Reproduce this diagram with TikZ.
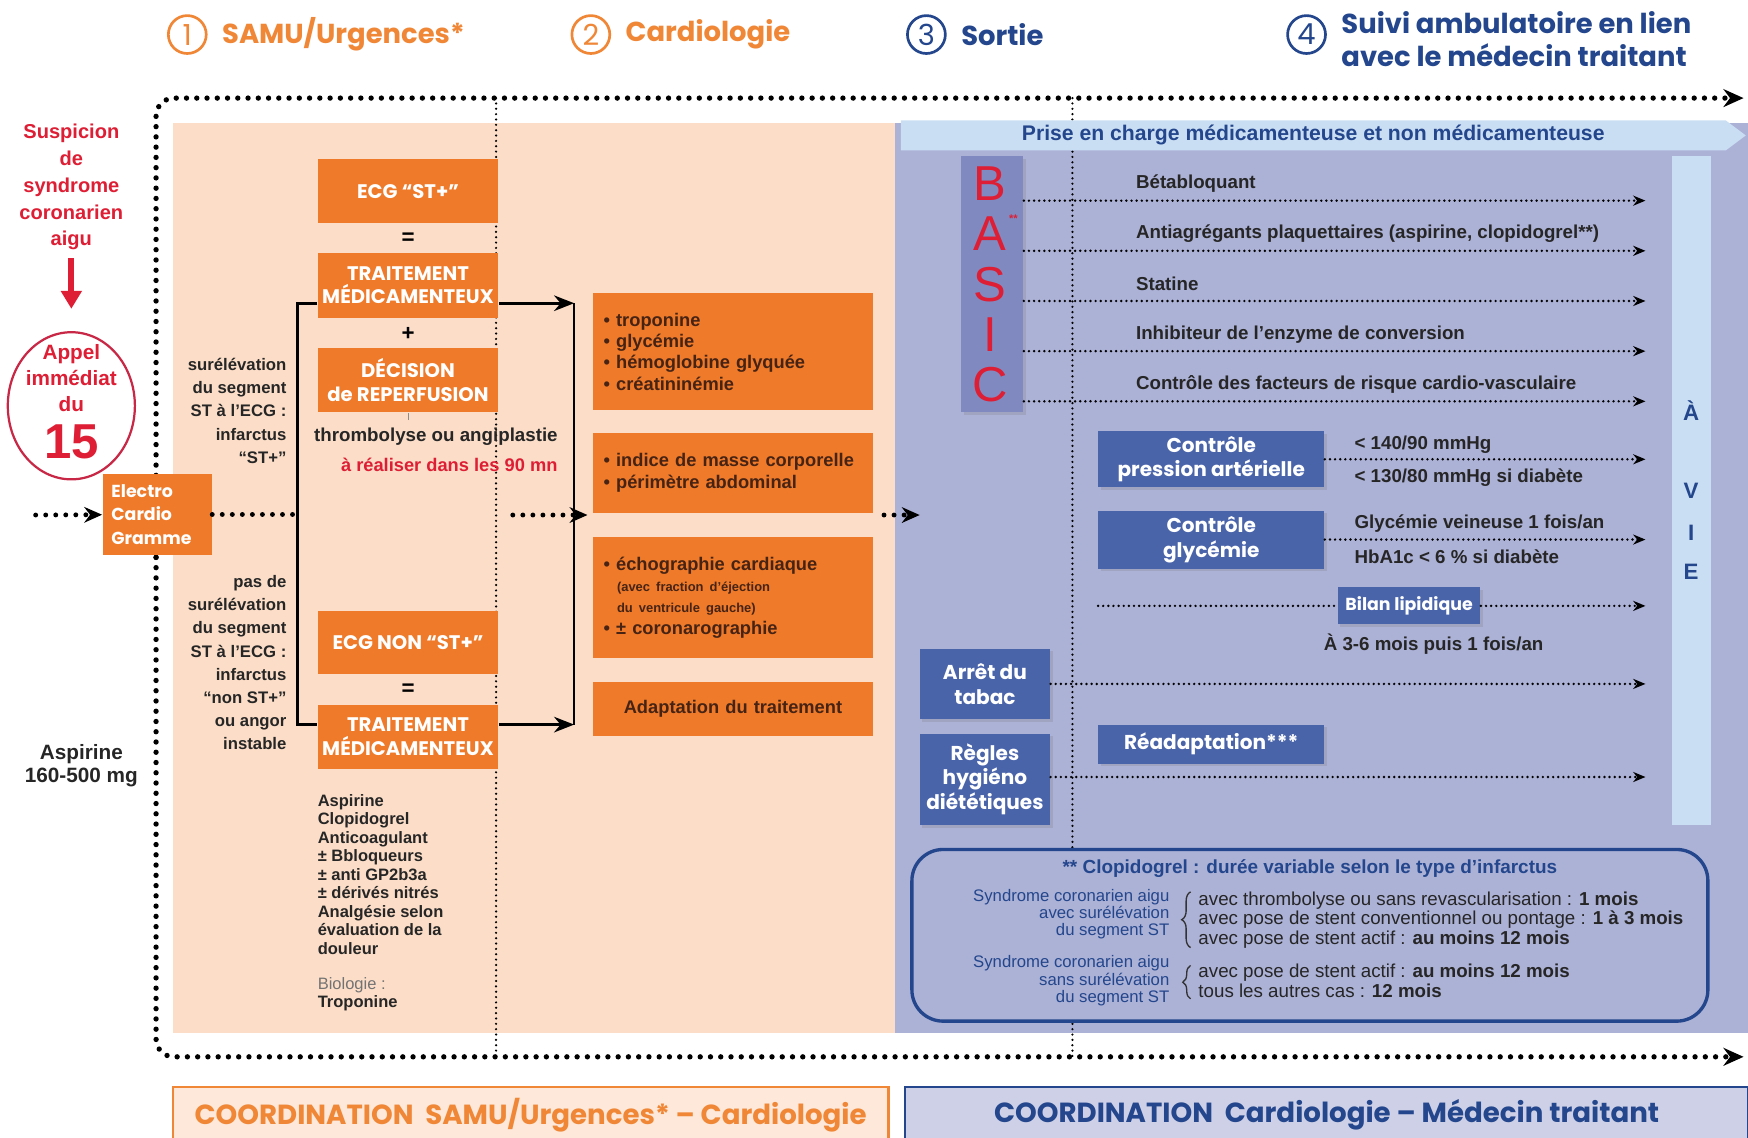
\documentclass[tikz,border=0pt]{standalone}
\usepackage{fontspec}
\setmainfont{Liberation Sans}
\newfontfamily\geo{Poppins}
\usetikzlibrary{arrows.meta,positioning,shapes.geometric,decorations.pathreplacing,shadows}

\definecolor{orng}{RGB}{238,122,42}
\definecolor{peach}{RGB}{252,222,200}
\definecolor{lavbg}{RGB}{172,177,214}
\definecolor{bxblue}{RGB}{74,100,170}
\definecolor{basicbg}{RGB}{128,138,192}
\definecolor{ltblue}{RGB}{202,222,243}
\definecolor{dkblue}{RGB}{35,70,140}
\definecolor{redc}{RGB}{222,30,52}
\definecolor{ringred}{RGB}{200,40,70}
\definecolor{hdorng}{RGB}{240,135,55}
\definecolor{brwn}{RGB}{70,35,20}
\newcommand{\fsz}[2]{\fontsize{#1}{#2}\selectfont}

\begin{document}
\begin{tikzpicture}
      [   x=0.5pt,y=-0.5pt,
          obox/.style={fill=orng,text=white,font=\geo\bfseries\fsz{8.8}{10.5},align=center,inner sep=0pt,minimum width=81pt},
          cbox/.style={fill=orng,text=brwn,font=\bfseries\fsz{8.2}{9.6},align=left,inner xsep=4.75pt,inner ysep=0pt,text width=116pt},
          bbox/.style={fill=bxblue,text=white,font=\geo\bfseries\fsz{9}{11},align=center,inner sep=0pt,
                       drop shadow={opacity=0.25,shadow xshift=1.2pt,shadow yshift=-1.2pt}},
          hnum/.style={circle,draw=#1,line width=1.2pt,text=#1,minimum size=17pt,inner sep=0pt,font=\geo\fsz{13}{13}},
          htxt/.style={text=#1,font=\geo\bfseries\fsz{12.3}{14.5},align=left},
          frame/.style={line width=2.4pt,line cap=round,dash pattern=on 0pt off 4.6pt,-{Stealth[length=9pt,width=8pt]}},
          bigdot/.style={line width=2.2pt,line cap=round,dash pattern=on 0pt off 4.5pt},
          divline/.style={line width=1.1pt,line cap=round,dash pattern=on 0pt off 2.4pt},
          dotarr/.style={line width=1.2pt,line cap=round,dash pattern=on 0pt off 2.3pt,-{Stealth[length=5.5pt,width=4.5pt]}},
          bline/.style={line width=1.2pt},
          barr/.style={bline,-{Stealth[length=9pt,width=7pt]}},
          lbl/.style={font=\bfseries\fsz{7.5}{10.4},align=right,anchor=east,text=black!85},
          smtx/.style={font=\bfseries\fsz{8.4}{9.5},anchor=west,text=black!85},
      ]
          \useasboundingbox (0,0) rectangle (1568,1020);
          \fill[white] (0,0) rectangle (1568,1020);
          % backgrounds
          \fill[peach] (155,110) rectangle (803,927);
          \fill[lavbg] (803,110) rectangle (1568,927);

          % headings
          \node[hnum=hdorng] (n1) at (168,31) {1};
          \node[htxt=hdorng,right=3pt of n1] (h1) {SAMU/Urgences*};
          \node[hnum=hdorng] (n2) at (530,31) {2};
          \node[htxt=hdorng,right=3pt of n2] (h2) {Cardiologie};
          \node[hnum=dkblue] (n3) at (831,31) {3};
          \node[htxt=dkblue,right=3pt of n3] (h3) {Sortie};
          \node[hnum=dkblue] (n4) at (1172,31) {4};
          \node[htxt=dkblue,right=3pt of n4,yshift=-2pt] (h4) {Suivi ambulatoire en lien\\avec le médecin traitant};

          % dotted frame
          \coordinate (fmid) at (140,500);
          \coordinate (ftop) at (1564,88);
          \coordinate (fbot) at (1564,948);
          \draw[frame,rounded corners=8pt] (fmid) |- (ftop);
          \draw[frame,rounded corners=8pt] (fmid) |- (fbot);
          \foreach \x in {445,962}
              \draw[divline] (\x,88) -- (\x,948);
          \fill[ltblue] (808,108) -- (1548,108) -- (1566,121.5) -- (1548,135) -- (808,135) -- cycle;
          \fill[ltblue] (1500,140) rectangle (1535,740);

          % left column
          \node[text=redc,font=\bfseries\fsz{9}{12},align=center] (susp) at (64,168) {Suspicion\\de\\syndrome\\coronarien\\aigu};
          \node[ellipse,draw=ringred,line width=1pt,minimum width=57pt,minimum height=66pt] (appel) at (64,364) {};
          \node[text=redc,font=\bfseries\fsz{9.3}{11.7},align=center] (appeltx) at (64,339) {Appel\\immédiat\\du};
          \node[text=redc,font=\bfseries\fsz{22}{22}] (quinze) at (64,396) {15};
          \draw[redc,line width=2.6pt,-{Triangle[length=8pt,width=9pt]},shorten >=10pt] (susp) -- (appel);
          \node[font=\bfseries\fsz{9.3}{10.5},align=center,text=black!85] (aspi) at (73,687) {Aspirine\\160-500 mg};

          \coordinate (inl) at (32,462);
          \node[fill=orng,text=white,font=\geo\bfseries\fsz{7.8}{10.5},align=left,inner xsep=4pt,inner ysep=0pt,text width=41pt,minimum height=36.5pt] (ecg) at (141,461.5) {Electro\\Cardio\\Gramme};
          \draw[bigdot,-{Stealth[length=8pt,width=7pt]}] (inl) -- (ecg);

          % SAMU column
          \node[obox,minimum height=28.5pt] (ecgst) at (366,171.5) {ECG “ST+”};
          \node[font=\bfseries\fsz{10}{10}] (eq1) at (366,214) {=};
          \node[obox,minimum height=29pt] (trait1) at (366,256) {TRAITEMENT\\MÉDICAMENTEUX};
          \node[font=\bfseries\fsz{10}{10}] (plus) at (366,300) {+};
          \node[obox,minimum height=29pt] (decis) at (366,341) {DÉCISION\\de REPERFUSION};
          \node[font=\bfseries\fsz{8.4}{9},text=black!85] (thromb) at (391,392) {thrombolyse ou angiplastie};
          \node[font=\bfseries\fsz{8.2}{9},text=redc] (delai) at (403,417) {à réaliser dans les 90 mn};
          \draw[black!45,line width=0.4pt] (decis) -- (decis |- thromb.north);
          \node[obox,minimum height=28.5pt] (ecgnst) at (366,576.5) {ECG NON “ST+”};
          \node[font=\bfseries\fsz{10}{10}] (eq2) at (366,619) {=};
          \node[obox,minimum height=29pt] (trait2) at (366,661) {TRAITEMENT\\MÉDICAMENTEUX};
          \node[anchor=west,align=left,font=\bfseries\fsz{7.4}{8.3},text=black!85] (trtlist) at (278,784.5)
              {Aspirine\\Clopidogrel\\Anticoagulant\\± Bbloqueurs\\± anti GP2b3a\\± dérivés nitrés\\Analgésie selon\\évaluation de la\\douleur};
          \node[anchor=west,align=left,font=\fsz{7.4}{8.3},text=black!85] (biol) at (278,892) {{\color{black!55}Biologie :}\\\textbf{Troponine}};

          \node[lbl] (stplus) at (264,368.5) {surélévation\\du segment\\ST à l’ECG :\\infarctus\\“ST+”};
          \node[lbl] (nonst) at (264,594.5) {pas de\\surélévation\\du segment\\ST à l’ECG :\\infarctus\\“non ST+”\\ou angor\\instable};

          % brackets
          \coordinate (lt) at (267,272);
          \coordinate (lb) at (267,650);
          \coordinate (rt) at (515,272);
          \coordinate (rb) at (515,650);
          \draw[bigdot] (ecg) -- (ecg -| lt);
          \draw[bline] (trait1.west |- lt) -- (lt) -- (lb) -- (trait2.west |- lb);
          \draw[bline] (rt) -- (rb);
          \draw[barr] (trait1.east |- rt) -- (rt);
          \draw[barr] (trait2.east |- rb) -- (rb);
          \coordinate (ma) at (460,462);
          \coordinate (mb) at (527,462);
          \draw[bigdot,-{Stealth[length=8pt,width=7pt]}] (ma) -- (mb);

          % cardiologie column
          \node[cbox,minimum height=52.5pt] (bio) at (657.5,315.5) {• troponine\\• glycémie\\• hémoglobine glyquée\\• créatininémie};
          \node[cbox,minimum height=36pt] (imc) at (657.5,424) {• indice de masse corporelle\\• périmètre abdominal};
          \node[cbox,minimum height=54pt] (echo) at (657.5,536) {• échographie cardiaque\\{\fsz{5.8}{9.6}\hspace*{6pt}(avec fraction d’éjection}\\{\fsz{5.8}{9.6}\hspace*{6pt}du ventricule gauche)}\\• ± coronarographie};
          \node[cbox,minimum height=24pt,align=center] (adapt) at (657.5,636) {Adaptation du traitement};
          \coordinate (ca) at (793,462);
          \coordinate (cb) at (825,462);
          \draw[bigdot,-{Stealth[length=8pt,width=7pt]}] (ca) -- (cb);

          % suivi
          \node[text=dkblue,font=\bfseries\fsz{9.5}{10}] (prise) at (1178,121) {Prise en charge médicamenteuse et non médicamenteuse};
          \foreach \y/\l in {368/À,440/V,478/I,513/E}
              \node[text=dkblue,font=\bfseries\fsz{10}{10}] at (1517,\y) {\l};

          \node[fill=basicbg,minimum width=28pt,minimum height=115pt,inner sep=0pt,
                drop shadow={opacity=0.25,shadow xshift=1.2pt,shadow yshift=-1.2pt}] (basic) at (890,255) {};
          \foreach \y/\l in {165/B,210/A,255/S,300/I,345/C}
              \node[text=redc,font=\fsz{22}{22}] at (888,\y) {\l};
          \node[text=redc,font=\bfseries\fsz{5}{5}] (astk) at (909,196) {**};
          \foreach \y/\t [count=\i] in {180/Bétabloquant,225/{Antiagrégants plaquettaires (aspirine, clopidogrel**)},270/Statine,315/Inhibiteur de l’enzyme de conversion,360/Contrôle des facteurs de risque cardio-vasculaire}
          {   \coordinate (b\i) at (1476,\y);
              \draw[dotarr] (basic.east |- b\i) -- (b\i);
              \node[smtx] at (1012,\y-15) {\t};
          }

          \node[bbox,minimum width=101.5pt,minimum height=25pt] (press) at (1086.5,412) {Contrôle\\pression artérielle};
          \node[bbox,minimum width=101.5pt,minimum height=26pt] (glyc) at (1086.5,484) {Contrôle\\glycémie};
          \node[bbox,minimum width=64pt,minimum height=16.5pt,font=\geo\bfseries\fsz{7.8}{9}] (bilan) at (1264,543.5) {Bilan lipidique};
          \node[bbox,minimum width=58.5pt,minimum height=31.5pt] (tabac) at (883.5,613.5) {Arrêt du\\tabac};
          \node[bbox,minimum width=58.5pt,minimum height=41pt] (regles) at (883.5,699) {Règles\\hygiéno\\diététiques};
          \node[bbox,minimum width=101.5pt,minimum height=17.5pt] (readapt) at (1086.5,667.5) {Réadaptation***};

          \coordinate (ep) at (1476,412);
          \coordinate (eg) at (1476,484);
          \coordinate (sb) at (985,543.5);
          \coordinate (eb) at (1476,543.5);
          \coordinate (et) at (1476,613.5);
          \coordinate (er) at (1476,697);
          \draw[dotarr] (press) -- (ep);
          \draw[dotarr] (glyc) -- (eg);
          \draw[line width=1.2pt,line cap=round,dash pattern=on 0pt off 2.3pt] (sb) -- (bilan);
          \draw[dotarr] (bilan) -- (eb);
          \draw[dotarr] (tabac) -- (et);
          \draw[dotarr] (regles.east |- er) -- (er);

          \node[smtx] at (1208,399) {< 140/90 mmHg};
          \node[smtx] at (1208,428) {< 130/80 mmHg si diabète};
          \node[smtx] at (1208,470) {Glycémie veineuse 1 fois/an};
          \node[smtx] at (1208,499) {HbA1c < 6 \% si diabète};
          \node[smtx,anchor=center] (freq) at (1286,578) {À 3-6 mois puis 1 fois/an};

          % note clopidogrel
          \node[draw=dkblue,fill=lavbg,line width=1.5pt,rounded corners=14pt,minimum width=357pt,minimum height=77pt] (note) at (1175,839) {};
          \node[text=dkblue,font=\bfseries\fsz{8.5}{9}] (notetit) at (1175,779) {** Clopidogrel : durée variable selon le type d’infarctus};
          \node[text=dkblue,font=\fsz{7.5}{7.8},align=right,anchor=east] (sca1) at (1056,820) {Syndrome coronarien aigu\\avec surélévation\\du segment ST};
          \node[text=dkblue,font=\fsz{7.5}{7.8},align=right,anchor=east] (sca2) at (1056,880) {Syndrome coronarien aigu\\sans surélévation\\du segment ST};
          \node[font=\fsz{8.4}{8.75},align=left,anchor=west,text=black!85] (dur1) at (1068,825)
              {avec thrombolyse ou sans revascularisation : \textbf{1 mois}\\avec pose de stent conventionnel ou pontage : \textbf{1 à 3 mois}\\avec pose de stent actif : \textbf{au moins 12 mois}};
          \node[font=\fsz{8.4}{8.75},align=left,anchor=west,text=black!85] (dur2) at (1068,880)
              {avec pose de stent actif : \textbf{au moins 12 mois}\\tous les autres cas : \textbf{12 mois}};
          \draw[decorate,decoration={brace,amplitude=4pt},line width=0.6pt,black!80] (1068,850) -- (1068,800);
          \draw[decorate,decoration={brace,amplitude=3.5pt},line width=0.6pt,black!80] (1068,896) -- (1068,866);

          % coordination
          \node[draw=hdorng,fill=peach!70,line width=1pt,minimum width=321pt,minimum height=25pt,text=hdorng,font=\geo\bfseries\fsz{12.4}{13}] (coord1) at (476,1000) {COORDINATION\ \ SAMU/Urgences* – Cardiologie};
          \node[draw=dkblue,fill=lavbg!60,line width=1pt,minimum width=378pt,minimum height=25pt,text=dkblue,font=\geo\bfseries\fsz{12.4}{13}] (coord2) at (1190,1000) {COORDINATION\ \ Cardiologie – Médecin traitant};
    \end{tikzpicture}
\end{document}
